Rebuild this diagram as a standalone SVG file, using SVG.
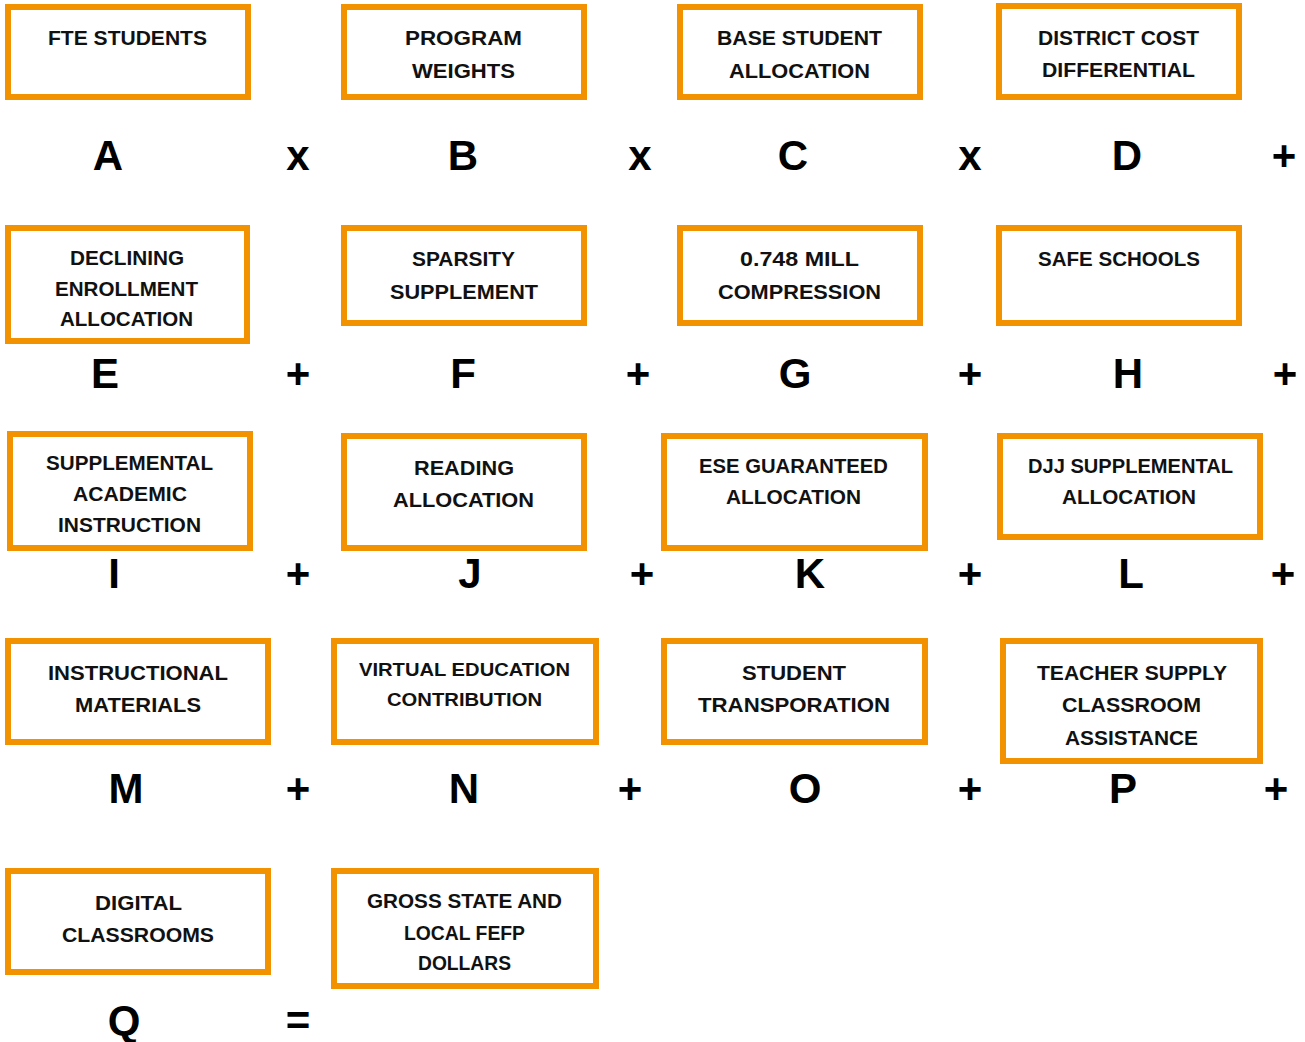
<svg xmlns="http://www.w3.org/2000/svg" width="1305" height="1042" viewBox="0 0 1305 1042">
<style>
.b{fill:#fff;stroke:#F39200;stroke-width:6}
.t{font-family:"Liberation Sans",Arial,sans-serif;font-weight:bold;font-size:21px;fill:#111;text-anchor:middle}
.s{font-size:19px}
.L{font-family:"Liberation Sans",Arial,sans-serif;font-weight:bold;font-size:42px;fill:#000;text-anchor:middle}
</style>
<rect width="1305" height="1042" fill="#fff"/>
<g id="nodes">
<g id="fte"><rect class="b" x="8" y="7" width="240" height="90"/><text class="t" x="127.5" y="44.5" textLength="159" lengthAdjust="spacingAndGlyphs">FTE STUDENTS</text></g>
<g id="weights"><rect class="b" x="344" y="7" width="240" height="90"/><text class="t" x="463.5" y="44.5" textLength="117" lengthAdjust="spacingAndGlyphs">PROGRAM</text><text class="t" x="463.5" y="77.5" textLength="103" lengthAdjust="spacingAndGlyphs">WEIGHTS</text></g>
<g id="bsa"><rect class="b" x="680" y="7" width="240" height="90"/><text class="t" x="799.5" y="44.5" textLength="165" lengthAdjust="spacingAndGlyphs">BASE STUDENT</text><text class="t" x="799.5" y="77.5" textLength="141" lengthAdjust="spacingAndGlyphs">ALLOCATION</text></g>
<g id="dcd"><rect class="b" x="999" y="6" width="240" height="91"/><text class="t" x="1118.5" y="44.5" textLength="161" lengthAdjust="spacingAndGlyphs">DISTRICT COST</text><text class="t" x="1118.5" y="76.5" textLength="153" lengthAdjust="spacingAndGlyphs">DIFFERENTIAL</text></g>

<g id="declining"><rect class="b" x="8" y="228" width="239" height="113"/><text class="t" x="127" y="264.5" textLength="114" lengthAdjust="spacingAndGlyphs">DECLINING</text><text class="t" x="126.5" y="295.5" textLength="143" lengthAdjust="spacingAndGlyphs">ENROLLMENT</text><text class="t" x="126.5" y="325.5" textLength="133" lengthAdjust="spacingAndGlyphs">ALLOCATION</text></g>
<g id="sparsity"><rect class="b" x="344" y="228" width="240" height="95"/><text class="t" x="463.5" y="265.5" textLength="103" lengthAdjust="spacingAndGlyphs">SPARSITY</text><text class="t" x="464" y="298.5" textLength="148" lengthAdjust="spacingAndGlyphs">SUPPLEMENT</text></g>
<g id="mill"><rect class="b" x="680" y="228" width="240" height="95"/><text class="t" x="799.5" y="265.5" textLength="119" lengthAdjust="spacingAndGlyphs">0.748 MILL</text><text class="t" x="799.5" y="298.5" textLength="163" lengthAdjust="spacingAndGlyphs">COMPRESSION</text></g>
<g id="safe"><rect class="b" x="999" y="228" width="240" height="95"/><text class="t" x="1119" y="265.5" textLength="162" lengthAdjust="spacingAndGlyphs">SAFE SCHOOLS</text></g>

<g id="sai"><rect class="b" x="10" y="434" width="240" height="114"/><text class="t" x="129.5" y="469.5" textLength="167" lengthAdjust="spacingAndGlyphs">SUPPLEMENTAL</text><text class="t" x="130" y="500.5" textLength="114" lengthAdjust="spacingAndGlyphs">ACADEMIC</text><text class="t" x="129.5" y="531.5" textLength="143" lengthAdjust="spacingAndGlyphs">INSTRUCTION</text></g>
<g id="reading"><rect class="b" x="344" y="436" width="240" height="112"/><text class="t" x="464" y="474.5" textLength="100" lengthAdjust="spacingAndGlyphs">READING</text><text class="t" x="463.5" y="506.5" textLength="141" lengthAdjust="spacingAndGlyphs">ALLOCATION</text></g>
<g id="ese"><rect class="b" x="664" y="436" width="261" height="112"/><text class="t" x="793.5" y="472.5" textLength="189" lengthAdjust="spacingAndGlyphs">ESE GUARANTEED</text><text class="t" x="793.5" y="503.5" textLength="135" lengthAdjust="spacingAndGlyphs">ALLOCATION</text></g>
<g id="djj"><rect class="b" x="1000" y="436" width="260" height="101"/><text class="t" x="1130.5" y="472.5" textLength="205" lengthAdjust="spacingAndGlyphs">DJJ SUPPLEMENTAL</text><text class="t" x="1129" y="503.5" textLength="134" lengthAdjust="spacingAndGlyphs">ALLOCATION</text></g>

<g id="materials"><rect class="b" x="8" y="641" width="260" height="101"/><text class="t" x="138" y="679.5" textLength="180" lengthAdjust="spacingAndGlyphs">INSTRUCTIONAL</text><text class="t" x="138" y="711.5" textLength="126" lengthAdjust="spacingAndGlyphs">MATERIALS</text></g>
<g id="virtual"><rect class="b" x="334" y="641" width="262" height="101"/><text class="t s" x="464.5" y="676" textLength="211" lengthAdjust="spacingAndGlyphs">VIRTUAL EDUCATION</text><text class="t s" x="464.5" y="706" textLength="155" lengthAdjust="spacingAndGlyphs">CONTRIBUTION</text></g>
<g id="transport"><rect class="b" x="664" y="641" width="261" height="101"/><text class="t" x="794" y="679.5" textLength="104" lengthAdjust="spacingAndGlyphs">STUDENT</text><text class="t" x="794" y="711.5" textLength="192" lengthAdjust="spacingAndGlyphs">TRANSPORATION</text></g>
<g id="teacher"><rect class="b" x="1003" y="641" width="257" height="120"/><text class="t" x="1132" y="679.5" textLength="190" lengthAdjust="spacingAndGlyphs">TEACHER SUPPLY</text><text class="t" x="1131.5" y="711.5" textLength="139" lengthAdjust="spacingAndGlyphs">CLASSROOM</text><text class="t" x="1131.5" y="744.5" textLength="133" lengthAdjust="spacingAndGlyphs">ASSISTANCE</text></g>

<g id="digital"><rect class="b" x="8" y="871" width="260" height="101"/><text class="t" x="138.5" y="909.5" textLength="87" lengthAdjust="spacingAndGlyphs">DIGITAL</text><text class="t" x="138" y="941.5" textLength="152" lengthAdjust="spacingAndGlyphs">CLASSROOMS</text></g>
<g id="gross"><rect class="b" x="334" y="871" width="262" height="115"/><text class="t" x="464.5" y="907.5" textLength="195" lengthAdjust="spacingAndGlyphs">GROSS STATE AND</text><text class="t" x="464.5" y="939.5" textLength="121" lengthAdjust="spacingAndGlyphs">LOCAL FEFP</text><text class="t" x="464.5" y="969.5" textLength="93" lengthAdjust="spacingAndGlyphs">DOLLARS</text></g>
</g>
<g id="connectors">
<text class="L" x="108" y="170">A</text><text class="L" x="298" y="170">x</text><text class="L" x="463" y="170">B</text><text class="L" x="640" y="170">x</text><text class="L" x="793" y="170">C</text><text class="L" x="970" y="170">x</text><text class="L" x="1127" y="170">D</text><text class="L" x="1284" y="170">+</text>
<text class="L" x="105" y="388">E</text><text class="L" x="298" y="388">+</text><text class="L" x="463" y="388">F</text><text class="L" x="638" y="388">+</text><text class="L" x="795" y="388">G</text><text class="L" x="970" y="388">+</text><text class="L" x="1128" y="388">H</text><text class="L" x="1285" y="388">+</text>
<text class="L" x="114" y="588">I</text><text class="L" x="298" y="588">+</text><text class="L" x="470" y="588">J</text><text class="L" x="642" y="588">+</text><text class="L" x="810" y="588">K</text><text class="L" x="970" y="588">+</text><text class="L" x="1131" y="588">L</text><text class="L" x="1283" y="588">+</text>
<text class="L" x="126" y="803">M</text><text class="L" x="298" y="803">+</text><text class="L" x="464" y="803">N</text><text class="L" x="630" y="803">+</text><text class="L" x="805" y="803">O</text><text class="L" x="970" y="803">+</text><text class="L" x="1123" y="803">P</text><text class="L" x="1276" y="803">+</text>
<text class="L" x="124" y="1035">Q</text><text class="L" x="298" y="1035">=</text>
</g>
</svg>
